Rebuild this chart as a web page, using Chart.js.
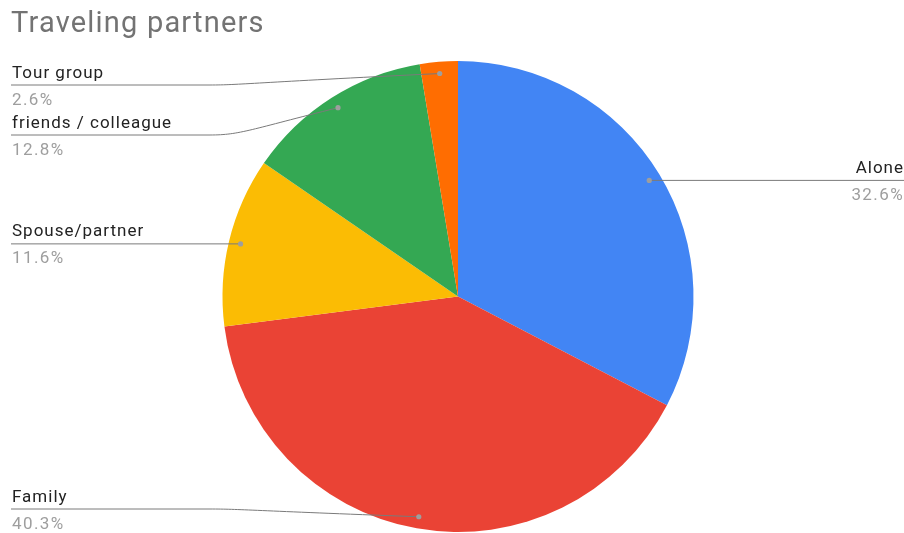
<!DOCTYPE html>
<html>
<head>
<meta charset="utf-8">
<script src="https://cdn.jsdelivr.net/npm/chart.js@4"></script>
<style>
  html, body { margin: 0; padding: 0; background: #ffffff; }
  #wrap { width: 904px; height: 533px; position: relative; }
</style>
</head>
<body>
<div id="wrap"><canvas id="c" width="904" height="533"></canvas></div>
<script>
const chartTitle = 'Traveling partners';
const categories = ['Alone', 'Family', 'Spouse/partner', 'friends / colleague', 'Tour group'];
const shares = [32.6, 40.3, 11.6, 12.8, 2.6];
const sliceColors = ['#4285F4', '#EA4335', '#FBBC04', '#34A853', '#FF6D01'];

const FONT = 'Roboto, "Noto Sans", Arial, sans-serif';

// Title plus outside labels with leader lines, Google-Sheets style
const calloutPlugin = {
  id: 'callouts',
  afterDraw(chart) {
    const ctx = chart.ctx;
    const W = chart.width;
    ctx.save();

    // title
    ctx.font = '400 29px ' + FONT;
    ctx.letterSpacing = '1.2px';
    ctx.fillStyle = '#737373';
    ctx.textAlign = 'left';
    ctx.textBaseline = 'alphabetic';
    ctx.fillText(chartTitle, 11, 32);

    const meta = chart.getDatasetMeta(0);
    const items = meta.data.map((arc, i) => {
      const p = arc.getProps(['x', 'y', 'startAngle', 'endAngle', 'outerRadius'], true);
      const mid = (p.startAngle + p.endAngle) / 2;
      const r = p.outerRadius * 0.95;
      return {
        i,
        dx: p.x + Math.cos(mid) * r,
        dy: p.y + Math.sin(mid) * r,
        right: Math.cos(mid) > 0
      };
    });

    // vertical placement per side: follow the dot, keep rows apart and inside bounds
    const minY = 85, maxY = 509, gap = 50;
    ['left', 'right'].forEach(side => {
      const list = items.filter(it => (side === 'right') === it.right).sort((a, b) => a.dy - b.dy);
      let prev = -Infinity;
      list.forEach(it => {
        const y = Math.max(it.dy, minY, prev + gap);
        it.ly = y;
        prev = y;
      });
      for (let k = list.length - 1; k >= 0; k--) {
        const lim = k === list.length - 1 ? maxY : list[k + 1].ly - gap;
        if (list[k].ly > lim) list[k].ly = lim;
      }
    });

    items.forEach(it => {
      const name = categories[it.i];
      const pct = shares[it.i].toFixed(1) + '%';
      ctx.strokeStyle = '#7a7a7a';
      ctx.lineWidth = 1;
      ctx.beginPath();
      if (it.right) {
        ctx.moveTo(it.dx, it.dy);
        if (Math.abs(it.ly - it.dy) > 0.5) ctx.lineTo(W - 200, it.ly);
        ctx.lineTo(W, it.ly);
      } else {
        ctx.moveTo(11, it.ly);
        if (Math.abs(it.ly - it.dy) > 0.5) {
          ctx.lineTo(210, it.ly);
          ctx.bezierCurveTo(240, it.ly, 250, it.dy + (it.ly - it.dy) * 0.8, it.dx, it.dy);
        } else {
          ctx.lineTo(it.dx, it.dy);
        }
      }
      ctx.stroke();

      ctx.fillStyle = '#9e9e9e';
      ctx.beginPath();
      ctx.arc(it.dx, it.dy, 2.6, 0, Math.PI * 2);
      ctx.fill();

      ctx.font = '400 17px ' + FONT;
      ctx.letterSpacing = '1px';
      ctx.textAlign = it.right ? 'right' : 'left';
      const tx = it.right ? W : 12;
      ctx.fillStyle = '#222222';
      ctx.fillText(name, tx, it.ly - 7.5);
      ctx.fillStyle = '#9e9e9e';
      ctx.letterSpacing = '1.4px';
      ctx.fillText(pct, tx, it.ly + 19.5);
    });

    ctx.restore();
  }
};

new Chart(document.getElementById('c'), {
  type: 'pie',
  data: {
    labels: categories,
    datasets: [{
      data: shares,
      backgroundColor: sliceColors,
      borderWidth: 0,
      hoverOffset: 0
    }]
  },
  options: {
    responsive: false,
    animation: false,
    layout: { padding: { top: 61, bottom: 1, left: 12, right: 0 } },
    plugins: {
      legend: { display: false },
      title: { display: false },
      tooltip: { enabled: false }
    },
    events: []
  },
  plugins: [calloutPlugin]
});
</script>
</body>
</html>
